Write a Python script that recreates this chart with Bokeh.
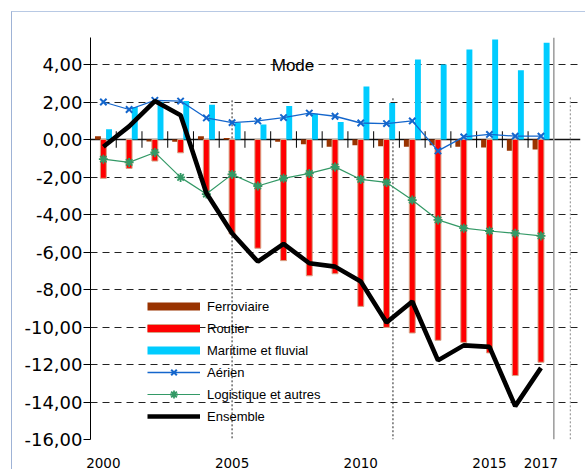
import math
from bokeh.plotting import figure
from bokeh.models import (ColumnDataSource, Range1d, FixedTicker, Legend, LegendItem,
                          Label, Span, Grid)
from bokeh.transform import dodge
from bokeh.embed import file_html
from bokeh.resources import INLINE

# ---------------- data ----------------
years = list(range(2000, 2018))
ferroviaire = [0.18, 0.0, -0.10, -0.12, 0.18, 0.08, 0.0, -0.12, -0.25, -0.39,
               -0.30, -0.36, -0.39, -0.30, -0.39, -0.42, -0.60, -0.53]
routier = [-2.07, -1.54, -1.15, -0.71, -2.95, -5.04, -5.80, -6.46, -7.27, -7.16,
           -8.90, -10.02, -10.32, -10.71, -10.82, -11.38, -12.59, -11.88]
maritime = [0.55, 1.73, 2.02, 2.05, 1.86, 0.90, 0.80, 1.79, 1.37, 0.94,
            2.83, 1.95, 4.27, 4.00, 4.80, 5.33, 3.69, 5.16]
aerien = [2.00, 1.60, 2.09, 2.05, 1.15, 0.90, 0.99, 1.17, 1.41, 1.24,
          0.88, 0.85, 0.99, -0.61, 0.14, 0.27, 0.18, 0.18]
logistique = [-1.05, -1.22, -0.69, -2.02, -2.91, -1.86, -2.48, -2.07, -1.81, -1.46,
              -2.13, -2.29, -3.23, -4.29, -4.73, -4.88, -5.00, -5.14]
ensemble = [-0.39, 0.70, 2.05, 1.29, -2.85, -5.00, -6.51, -5.57, -6.60, -6.78,
            -7.57, -9.76, -8.64, -11.78, -10.98, -11.06, -14.22, -12.18]

series_names = ["Ferroviaire", "Routier", "Maritime et fluvial", "Aérien",
                "Logistique et autres", "Ensemble"]
x_tick_years = [2000, 2005, 2010, 2015, 2017]
y_tick_values = [-16, -14, -12, -10, -8, -6, -4, -2, 0, 2, 4]
y_tick_labels = ["-16,00", "-14,00", "-12,00", "-10,00", "-8,00", "-6,00",
                 "-4,00", "-2,00", "0,00", "2,00", "4,00"]
title_text = "Mode"

# ---------------- colours ----------------
C_FER = "#993300"
C_ROU = "#FF0000"
C_ROU_EDGE = "#d6a486"
C_MAR = "#00CCFF"
C_AER = "#1466CC"
C_LOG = "#339966"
C_ENS = "#000000"

src = ColumnDataSource(dict(year=years, fer=ferroviaire, rou=routier, mar=maritime,
                            aer=aerien, log=logistique, ens=ensemble))

p = figure(width=574, height=458,
           x_range=Range1d(years[0] - 0.5, 2018.536),
           y_range=Range1d(-16, 5.44),
           min_border_left=78, min_border_right=6, min_border_top=25, min_border_bottom=30,
           output_backend="svg", toolbar_location=None)
p.margin = (11, 0, 0, 11)
p.styles = {"border-top": "1px solid #b8c9e4", "border-left": "1px solid #9fb3d6"}
p.outline_line_color = None
p.background_fill_color = "white"
p.border_fill_color = "white"

# axes
p.xaxis.ticker = FixedTicker(ticks=x_tick_years)
p.xaxis.axis_line_color = None
p.xaxis.major_tick_line_color = None
p.xaxis.minor_tick_line_color = None
p.xaxis.major_label_text_font = "DejaVu Sans"
p.xaxis.major_label_text_font_size = "13.5px"
p.xaxis.major_label_text_color = "black"
p.xaxis.major_label_standoff = 12

p.yaxis.ticker = FixedTicker(ticks=y_tick_values)
p.yaxis.major_label_overrides = {v: l for v, l in zip(y_tick_values, y_tick_labels)}
p.yaxis.axis_line_color = "black"
p.yaxis.axis_line_width = 1
p.yaxis.major_tick_line_color = "black"
p.yaxis.major_tick_out = 7
p.yaxis.major_tick_in = 0
p.yaxis.minor_tick_line_color = None
p.yaxis.major_label_text_font = "DejaVu Sans"
p.yaxis.major_label_text_font_size = "18px"
p.yaxis.major_label_text_color = "black"
p.yaxis.major_label_standoff = 1

# grid
p.xgrid.grid_line_color = None
p.ygrid.grid_line_color = "#222222"
p.ygrid.grid_line_dash = "7 5"
p.ygrid.grid_line_width = 1
p.ygrid.bounds = (years[0] - 0.5, years[-1] + 0.87)

zero_grid = Grid(dimension=1, ticker=FixedTicker(ticks=[0]),
                 grid_line_color="#111111", grid_line_width=1.3,
                 bounds=(years[0] - 0.5, years[-1] + 0.87))
p.add_layout(zero_grid)

# right gray border line
p.add_layout(Span(location=years[-1] + 0.5, dimension="height",
                  line_color="#9a9a9a", line_width=1.5))

# vertical dotted separators
p.segment(x0=[2005, 2011.25], y0=[2.09, 2.2], x1=[2005, 2011.25], y1=[-16, -16],
          line_color="#222222", line_width=1, line_dash="2 2")
p.segment(x0=[2018.14], y0=[2.25], x1=[2018.14], y1=[-16],
          line_color="#888888", line_width=1, line_dash="2 2")

# category ticks on the zero line
bnd = [y + 0.5 for y in years[:-1]]
p.segment(x0=bnd, y0=[-0.44] * len(bnd), x1=bnd, y1=[0.44] * len(bnd),
          line_color="black", line_width=1)

# bars
bw = 0.23
p.vbar(x=dodge("year", -0.21, range=p.x_range), top="fer", bottom=0, width=bw,
       source=src, fill_color=C_FER, line_color=None)
p.vbar(x=dodge("year", 0.0, range=p.x_range), top="rou", bottom=0, width=bw,
       source=src, fill_color=C_ROU, line_color=C_ROU_EDGE, line_width=1)
p.vbar(x=dodge("year", 0.22, range=p.x_range), top="mar", bottom=0, width=bw,
       source=src, fill_color=C_MAR, line_color=None)

# lines
r_aer_l = p.line("year", "aer", source=src, line_color=C_AER, line_width=1.3)
r_aer_m = p.scatter("year", "aer", source=src, marker="x", size=9,
                    line_color=C_AER, line_width=2)
r_log_l = p.line("year", "log", source=src, line_color=C_LOG, line_width=1.2)
r_log_m = p.scatter("year", "log", source=src, marker="asterisk", size=9,
                    line_color=C_LOG, line_width=1.8)
r_ens = p.line("year", "ens", source=src, line_color=C_ENS, line_width=4.6)

# dummy renderers for bar legend swatches
dummy = ColumnDataSource(dict(x=[years[0]], y=[math.nan]))
d_fer = p.line("x", "y", source=dummy, line_color=C_FER, line_width=8)
d_rou_e = p.line("x", "y", source=dummy, line_color=C_ROU_EDGE, line_width=9)
d_rou = p.line("x", "y", source=dummy, line_color=C_ROU, line_width=7)
d_mar = p.line("x", "y", source=dummy, line_color=C_MAR, line_width=8)

legend = Legend(items=[
    LegendItem(label=series_names[0], renderers=[d_fer]),
    LegendItem(label=series_names[1], renderers=[d_rou_e, d_rou]),
    LegendItem(label=series_names[2], renderers=[d_mar]),
    LegendItem(label=series_names[3], renderers=[r_aer_l, r_aer_m]),
    LegendItem(label=series_names[4], renderers=[r_log_l, r_log_m]),
    LegendItem(label=series_names[5], renderers=[r_ens]),
], location=(57, 13))
legend.background_fill_alpha = 0
legend.border_line_color = None
legend.padding = 0
legend.margin = 0
legend.glyph_width = 53
legend.glyph_height = 20
legend.label_height = 20
legend.spacing = 2
legend.label_standoff = 7
legend.label_text_font = "Liberation Sans"
legend.label_text_font_size = "13px"
legend.label_text_color = "black"
p.add_layout(legend)

p.add_layout(Label(x=2006.54, y=3.95, text=title_text, text_font="Liberation Sans",
                   text_font_size="17px", text_color="black",
                   text_baseline="alphabetic", text_align="left"))

open("out.html", "w").write(file_html(p, INLINE))
